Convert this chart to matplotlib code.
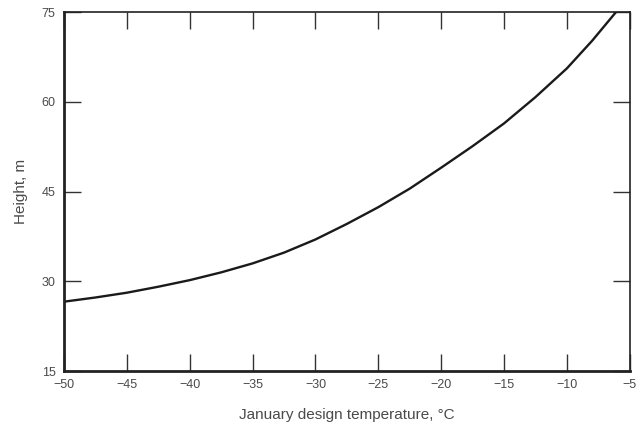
import matplotlib
matplotlib.use("Agg")
import matplotlib.pyplot as plt
import numpy as np

temperature = [-50, -47.5, -45, -42.5, -40, -37.5, -35, -32.5, -30, -27.5, -25,
               -22.5, -20, -17.5, -15, -12.5, -10, -8, -6.1]
height = [26.6, 27.3, 28.1, 29.1, 30.2, 31.5, 33.0, 34.8, 37.0, 39.6, 42.4,
          45.5, 49.0, 52.6, 56.4, 60.8, 65.6, 70.2, 75.0]

x_ticks = [-50, -45, -40, -35, -30, -25, -20, -15, -10, -5]
y_ticks = [15, 30, 45, 60, 75]

plt.rcParams['font.family'] = ['Liberation Sans', 'DejaVu Sans']
plt.rcParams['axes.unicode_minus'] = True

fig = plt.figure(figsize=(6.4, 4.34), dpi=100)
ax = fig.add_axes([0.1, 0.145, 0.884, 0.827])

ax.plot(temperature, height, color='#1a1a1a', lw=1.7, solid_capstyle='round',
        solid_joinstyle='round')

ax.set_xlim(-50, -5)
ax.set_ylim(15, 75)
ax.set_xticks(x_ticks)
ax.set_yticks(y_ticks)
ax.set_xticklabels([f"\u2212{abs(v)}" for v in x_ticks])
ax.set_yticklabels([str(v) for v in y_ticks])

ax.tick_params(direction='in', length=12, width=1.0, top=True, right=True,
               labelsize=9, pad=6, colors='#333333', labelcolor='#4a4a4a')

for s in ['left', 'bottom']:
    ax.spines[s].set_linewidth(2.0)
for s in ['top', 'right']:
    ax.spines[s].set_linewidth(1.2)
for s in ax.spines.values():
    s.set_color('#222222')

ax.set_xlabel("January design temperature, \u00b0C", fontsize=11, color='#4a4a4a', labelpad=12)
ax.set_ylabel("Height, m", fontsize=11, color='#4a4a4a', labelpad=10)

fig.savefig("out.png", dpi=100)
